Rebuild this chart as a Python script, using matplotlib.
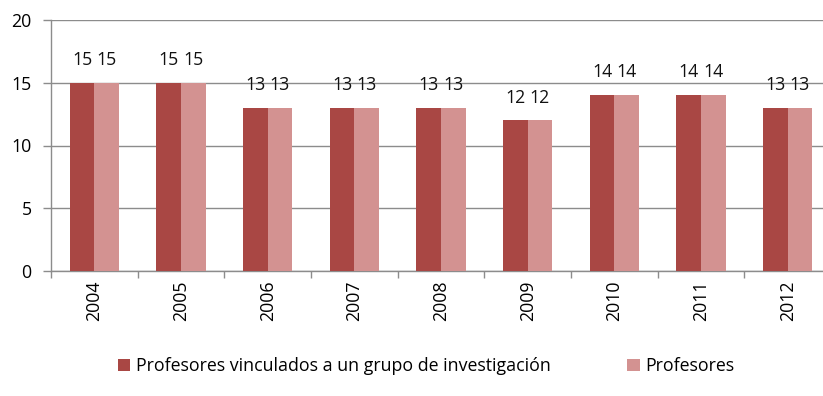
import matplotlib
matplotlib.use("Agg")
import matplotlib.pyplot as plt
import numpy as np

# Data
years = ["2004", "2005", "2006", "2007", "2008", "2009", "2010", "2011", "2012"]
vinculados = [15, 15, 13, 13, 13, 12, 14, 14, 13]
profesores = [15, 15, 13, 13, 13, 12, 14, 14, 13]
series_names = ["Profesores vinculados a un grupo de investigación", "Profesores"]
y_ticks = [0, 5, 10, 15, 20]

plt.rcParams["font.family"] = ["Open Sans", "DejaVu Sans"]
FS = 12.8
DARK = "#A94744"
LIGHT = "#D39291"
GRID = "#8C8C8C"

W, H = 823, 396
fig = plt.figure(figsize=(W / 100, H / 100), dpi=100)
ax = fig.add_axes([51 / W, 1 - 271 / H, 780 / W, 251 / H])

x = np.arange(len(years))
bw = 0.283
b1 = ax.bar(x - bw / 2, vinculados, bw, color=DARK, label=series_names[0], zorder=3)
b2 = ax.bar(x + bw / 2, profesores, bw, color=LIGHT, label=series_names[1], zorder=3)

for bars, vals in ((b1, vinculados), (b2, profesores)):
    for rect, v in zip(bars, vals):
        ax.annotate(f"{v}", (rect.get_x() + rect.get_width() / 2, v),
                    xytext=(0, 10), textcoords="offset points",
                    ha="center", va="bottom", fontsize=FS, color="#111111")

ax.set_xlim(-0.5, len(years) - 0.5)
ax.set_ylim(0, 20)
ax.set_yticks(y_ticks)
ax.set_yticklabels([str(t) for t in y_ticks], fontsize=FS)
ax.set_xticks(x)
ax.set_xticklabels(years, rotation=90, fontsize=FS, va="top")
ax.set_xticks(np.arange(-0.5, len(years) - 0.5 + 0.01, 1), minor=True)

ax.tick_params(axis="x", which="major", length=0, pad=7)
ax.tick_params(axis="x", which="minor", length=5, color=GRID, width=1)
ax.tick_params(axis="y", length=6, color=GRID, width=1, pad=8)

ax.grid(axis="y", color=GRID, linewidth=1, zorder=0)
for s in ("top", "right"):
    ax.spines[s].set_visible(False)
for s in ("left", "bottom"):
    ax.spines[s].set_color(GRID)
    ax.spines[s].set_linewidth(1)

fig.legend(handles=[b1, b2], loc="center left",
           bbox_to_anchor=(118 / W, 1 - 366 / H), ncol=2, frameon=False,
           fontsize=FS, handlelength=0.7, handleheight=0.7,
           handletextpad=0.3, columnspacing=4.3, borderpad=0, borderaxespad=0)

fig.savefig("out.png", dpi=100)
